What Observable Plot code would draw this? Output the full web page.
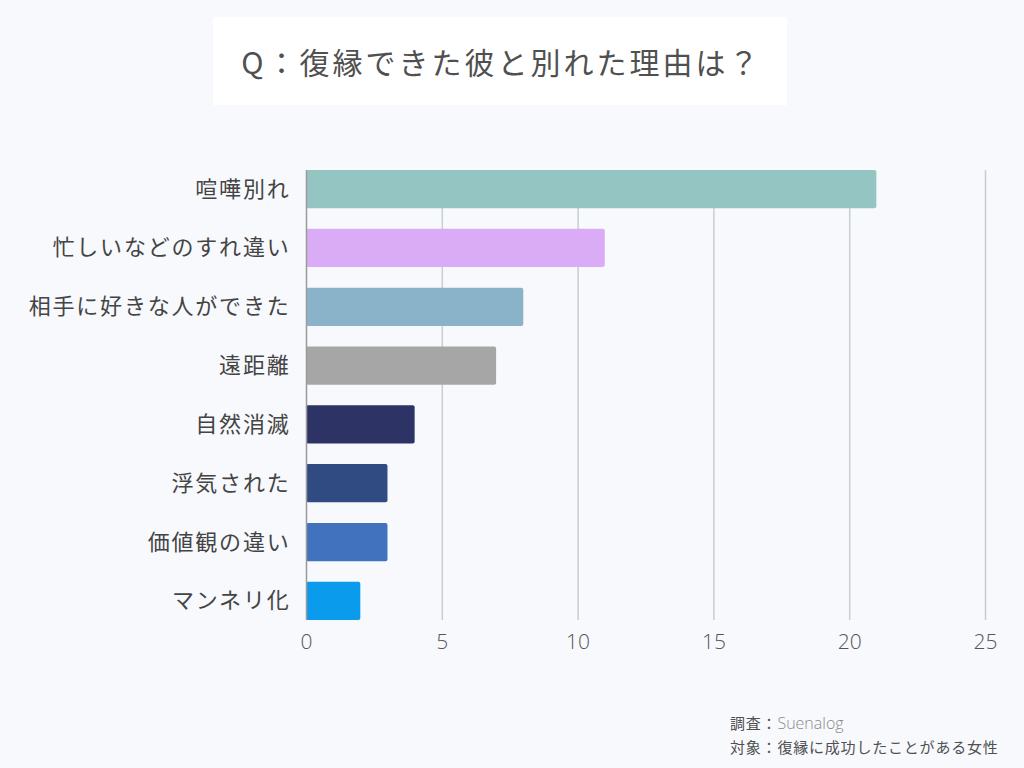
<!DOCTYPE html>
<html><head><meta charset="utf-8">
<script src="https://cdn.jsdelivr.net/npm/d3@7"></script>
<script src="https://cdn.jsdelivr.net/npm/@observablehq/plot@0.6"></script>
<style>
html,body{margin:0;padding:0;background:#f7f9fd;}
#wrap{position:relative;width:1024px;height:768px;overflow:hidden;background:#f7f9fd;font-family:"Noto Sans CJK JP","Noto Sans",sans-serif;}
#titlebox{position:absolute;left:213px;top:17px;width:574px;height:88px;background:#ffffff;display:flex;align-items:center;justify-content:center;}
#title{font-size:30px;color:#505050;letter-spacing:3px;margin-left:3px;}
#chart{position:absolute;left:0;top:0;}
#chart g[aria-label="y-axis tick label"] text{letter-spacing:1.8px;}
#caption{position:absolute;left:730px;top:711px;font-size:15px;line-height:23px;color:#505050;letter-spacing:0.8px;}
#caption .src{color:#8a8a8a;font-family:"Open Sans","Noto Sans",sans-serif;font-weight:300;font-size:16px;letter-spacing:0;}
</style></head>
<body><div id="wrap">
<div id="chart"></div>
<div id="titlebox"><div id="title">Q：復縁できた彼と別れた理由は？</div></div>
<div id="caption">調査：<span class="src">Suenalog</span><br>対象：復縁に成功したことがある女性</div>
</div>
<script>
const reasons = ["喧嘩別れ","忙しいなどのすれ違い","相手に好きな人ができた","遠距離","自然消滅","浮気された","価値観の違い","マンネリ化"];
const counts = [21, 11, 8, 7, 4, 3, 3, 2];
const colors = ["#95c5c3","#d9acf5","#8ab3ca","#a6a6a6","#2e3366","#2f4b82","#4172bd","#0a9bed"];
const xTicks = [0, 5, 10, 15, 20, 25];

const data = reasons.map((r, i) => ({reason: r, count: counts[i], color: colors[i]}));

const chart = Plot.plot({
  width: 1024,
  height: 768,
  marginLeft: 306,
  marginRight: 39,
  marginTop: 170,
  marginBottom: 148,
  style: {background: "transparent", fontFamily: "'Noto Sans CJK JP', sans-serif"},
  x: {domain: [0, 25], ticks: xTicks, label: null},
  y: {domain: reasons, range: [149.4, 640.6], padding: 0.35, round: false, label: null},
  marks: [
    Plot.gridX(xTicks.filter(d => d > 0), {stroke: "#c9ccd2", strokeOpacity: 1, strokeWidth: 1.5}),
    Plot.barX(data, {x: "count", y: "reason", fill: d => d.color, rx: 2}),
    Plot.ruleX([0], {stroke: "#9a9a9a", strokeWidth: 1.5}),
    Plot.axisX({ticks: xTicks, tickSize: 0, tickPadding: 14, fontSize: 21, fill: "#555", fontWeight: 300, fontFamily: "'Open Sans', sans-serif", label: null}),
    Plot.axisY({tickSize: 0, tickPadding: 16, fontSize: 22, fill: "#444", label: null})
  ]
});
document.getElementById("chart").appendChild(chart);
</script>
</body></html>
